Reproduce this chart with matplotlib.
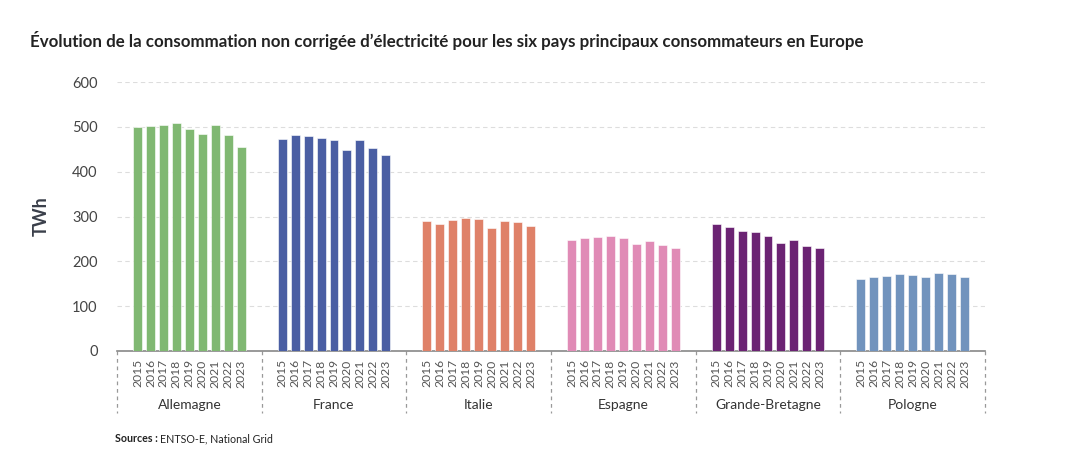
import matplotlib
matplotlib.use('Agg')
import matplotlib.pyplot as plt
import matplotlib.transforms as mtransforms
import numpy as np

plt.rcParams['font.family'] = ['Lato', 'DejaVu Sans']

countries = ['Allemagne', 'France', 'Italie', 'Espagne', 'Grande-Bretagne', 'Pologne']
years = ['2015', '2016', '2017', '2018', '2019', '2020', '2021', '2022', '2023']
colors = ['#80b872', '#4a5ea3', '#df8168', '#e08bb6', '#6b2373', '#7193bd']

allemagne = [499, 502, 505, 508, 496, 484, 504, 482, 456]
france = [473, 481, 479, 476, 471, 448, 471, 452, 437]
italie = [290, 284, 292, 297, 295, 274, 290, 287, 278]
espagne = [248, 251, 254, 256, 251, 239, 245, 237, 230]
grande_bretagne = [283, 277, 267, 266, 257, 240, 248, 234, 229]
pologne = [161, 164, 168, 171, 169, 165, 175, 172, 166]
values = [allemagne, france, italie, espagne, grande_bretagne, pologne]

G = 11.15  # width of one country group, in bar steps
off = (G - (len(years) - 1)) / 2

fig = plt.figure(figsize=(10.9, 4.67), dpi=100)
ax = fig.add_axes([117/1090, 1 - 351/467, (985-117)/1090, (351-82)/467])

ticks = []
ticklabels = []
for i, (vals, c) in enumerate(zip(values, colors)):
    x = i * G + off + np.arange(len(years))
    ax.bar(x, vals, width=0.69, color=c, edgecolor='white', linewidth=0.4, zorder=3)
    ticks.extend(x)
    ticklabels.extend(years)

ax.set_xlim(0, len(countries) * G)
ax.set_ylim(0, 600)
ax.set_yticks(range(0, 601, 100))
ax.set_xticks(ticks)
ax.set_xticklabels(ticklabels, rotation=90, fontsize=8.7, color='#555555')
ax.tick_params(axis='x', length=0, pad=6)
ax.tick_params(axis='y', length=0, pad=14, labelsize=10.5, labelcolor='#444444')
ax.grid(axis='y', color='#dddddd', linestyle=(0, (4, 3)), linewidth=0.8, zorder=0)
for s in ['top', 'right', 'left']:
    ax.spines[s].set_visible(False)
ax.spines['bottom'].set_color('#888888')
ax.spines['bottom'].set_linewidth(1.2)

trans = mtransforms.blended_transform_factory(ax.transData, ax.transAxes)
for i in range(len(countries) + 1):
    ax.plot([i * G, i * G], [0, -0.23], transform=trans, clip_on=False,
            color='#999999', linestyle=(0, (3, 3)), linewidth=0.9)
for i, name in enumerate(countries):
    ax.text(i * G + G / 2, -0.20, name, transform=trans, ha='center', va='center',
            fontsize=10, color='#333333')

ax.set_ylabel('TWh', fontsize=13, fontweight='bold', color='#3a3f4a', labelpad=16)

fig.text(30/1090, 1 - 40/467, "Évolution de la consommation non corrigée d’électricité pour les six pays principaux consommateurs en Europe",
         fontsize=12.2, fontweight='bold', color='#222222', va='center', ha='left')

t1 = fig.text(115/1090, 1 - 439/467, 'Sources : ', fontsize=7.7, fontweight='bold',
              color='#222222', va='center', ha='left')
ax.annotate('ENTSO-E, National Grid', xy=(1, 0), xycoords=t1, va='bottom', ha='left',
            fontsize=7.7, color='#222222')

fig.savefig('out.png', dpi=100, facecolor='white')
